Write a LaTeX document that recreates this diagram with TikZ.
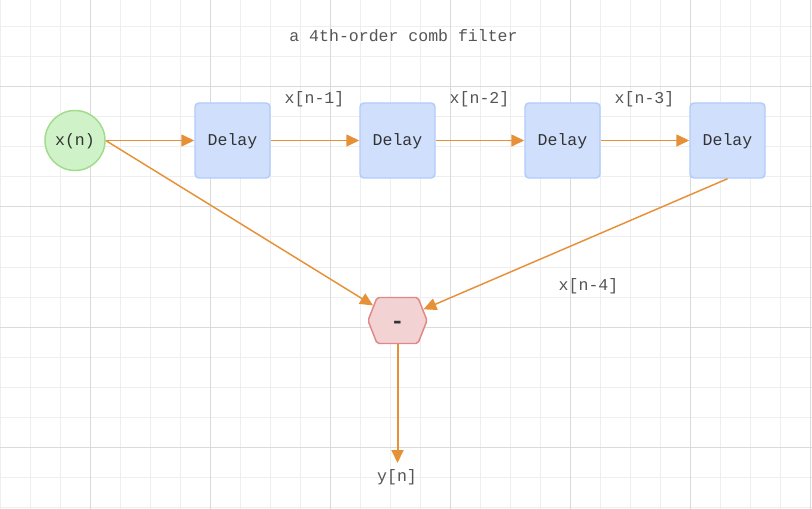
\documentclass[tikz,border=0pt]{standalone}
\usepackage{fontspec}
\setmonofont{Liberation Mono}
\usetikzlibrary{arrows.meta,shapes.symbols}
\definecolor{gridminor}{HTML}{EEEEEE}
\definecolor{gridmajor}{HTML}{DADADA}
\definecolor{srcfill}{HTML}{D0F2C8}
\definecolor{srcline}{HTML}{A0DC8C}
\definecolor{delfill}{HTML}{D0E0FC}
\definecolor{delline}{HTML}{B2CCFA}
\definecolor{hexfill}{HTML}{F2D2D2}
\definecolor{hexline}{HTML}{E08888}
\definecolor{wire}{HTML}{E69138}
\definecolor{nodetext}{HTML}{333333}
\definecolor{labeltext}{HTML}{555555}
\tikzset{
  txt/.style={font=\ttfamily\fontsize{12.4}{14}\selectfont},
  srcnode/.style={txt, circle, draw=srcline, fill=srcfill, line width=1.1pt, minimum size=45pt, inner sep=0pt, text=nodetext, text height=10pt},
  delaybox/.style={txt, rectangle, rounded corners=3pt, draw=delline, fill=delfill, line width=1.1pt, minimum size=56.25pt, inner sep=0pt, text=nodetext, text height=10pt},
  hexnode/.style={txt, signal, signal to=east and west, signal pointer angle=137, draw=hexline, fill=hexfill, line width=1.1pt, minimum width=44.25pt, minimum height=34.5pt, inner sep=0pt, text=nodetext, rounded corners=1.5pt},
  lbl/.style={txt, text=labeltext, inner sep=0pt},
  wirearrow/.style={draw=wire, line width=1.1pt, -{Triangle[length=9.75pt,width=9pt]}},
}
\begin{document}
\begin{tikzpicture}[x=0.75pt,y=-0.75pt]
\useasboundingbox (0,0) rectangle (812,509);
\fill[white] (0,0) rectangle (812,509);
% grid
\foreach \gx in {0,30,...,810} \draw[gridminor, line width=0.75pt] (\gx,0) -- (\gx,509);
\foreach \gy in {-3,27,...,507} \draw[gridminor, line width=0.75pt] (0,\gy) -- (812,\gy);
\foreach \gx in {90,210,...,810} \draw[gridmajor, line width=0.75pt] (\gx,0) -- (\gx,509);
\foreach \gy in {87,207,327,447} \draw[gridmajor, line width=0.75pt] (0,\gy) -- (812,\gy);
% title
\node[lbl] (title) at (403.5,36) {a 4th-order comb filter};
% nodes
\node[srcnode] (xn) at (75,140.5) {x(n)};
\node[delaybox] (d1) at (232.5,140.5) {Delay};
\node[delaybox] (d2) at (397.5,140.5) {Delay};
\node[delaybox] (d3) at (562.5,140.5) {Delay};
\node[delaybox] (d4) at (727.5,140.5) {Delay};
\node[hexnode] (hex) at (397.5,320.5) {\bfseries\fontsize{17}{17}\selectfont\raisebox{-6pt}[0pt][0pt]{-}};
\node[lbl, anchor=north, inner sep=0pt] (yn) at (397,469) {y[n]};
\coordinate (ytip) at (397.5,463);
% labels
\node[lbl] (l1) at (314.5,99) {x[n-1]};
\node[lbl] (l2) at (479.5,99) {x[n-2]};
\node[lbl] (l3) at (644.5,99) {x[n-3]};
\node[lbl] (l4) at (588.5,286) {x[n-4]};
% connectors
\draw[wirearrow] (xn.east) -- (d1.west);
\draw[wirearrow] (d1.east) -- (d2.west);
\draw[wirearrow] (d2.east) -- (d3.west);
\draw[wirearrow] (d3.east) -- (d4.west);
\draw[wirearrow] (xn.east) -- (hex);
\draw[wirearrow] (d4.south) -- (hex);
\draw[wirearrow, line width=1.5pt] (hex.south) -- (ytip);
\end{tikzpicture}
\end{document}
